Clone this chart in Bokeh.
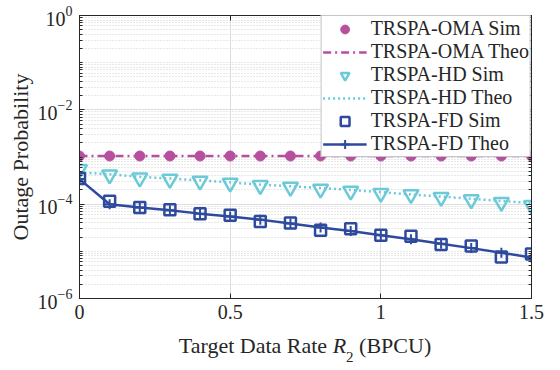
from bokeh.plotting import figure
from bokeh.models import (FixedTicker, LogAxis, LinearAxis, Legend, LegendItem,
                          Range1d, CustomJSTickFormatter, Div)
from bokeh.layouts import column
from bokeh.embed import file_html
from bokeh.resources import INLINE

# ---------------- data ----------------
rate = [0.0, 0.1, 0.2, 0.3, 0.4, 0.5, 0.6, 0.7, 0.8, 0.9, 1.0, 1.1, 1.2, 1.3, 1.4, 1.5]

oma_sim = [1.05e-3, 1.05e-3, 1.05e-3, 1.05e-3, 1.05e-3, 1.05e-3, 1.05e-3, 1.05e-3,
           1.05e-3, 1.05e-3, 1.05e-3, 1.05e-3, 1.05e-3, 1.05e-3, 1.05e-3, 1.05e-3]
oma_theo = [1.05e-3, 1.05e-3, 1.05e-3, 1.05e-3, 1.05e-3, 1.05e-3, 1.05e-3, 1.05e-3,
            1.05e-3, 1.05e-3, 1.05e-3, 1.05e-3, 1.05e-3, 1.05e-3, 1.05e-3, 1.05e-3]

hd_sim = [5.5e-4, 4.2e-4, 3.6e-4, 3.4e-4, 3.1e-4, 2.8e-4, 2.5e-4, 2.3e-4,
          2.1e-4, 1.9e-4, 1.7e-4, 1.6e-4, 1.4e-4, 1.25e-4, 1.1e-4, 9.5e-5]
hd_theo = [4.7e-4, 4.3e-4, 3.8e-4, 3.5e-4, 3.2e-4, 2.9e-4, 2.6e-4, 2.4e-4,
           2.2e-4, 2.0e-4, 1.8e-4, 1.6e-4, 1.45e-4, 1.3e-4, 1.17e-4, 1.05e-4]

fd_sim = [3.5e-4, 1.15e-4, 8.5e-5, 7.6e-5, 6.3e-5, 5.8e-5, 4.3e-5, 4.0e-5,
          2.8e-5, 3.0e-5, 2.2e-5, 2.1e-5, 1.4e-5, 1.3e-5, 7.6e-6, 8.8e-6]
fd_theo = [3.4e-4, 1.0e-4, 8.5e-5, 7.4e-5, 6.3e-5, 5.5e-5, 4.7e-5, 3.9e-5,
           3.2e-5, 2.7e-5, 2.2e-5, 1.8e-5, 1.45e-5, 1.17e-5, 9.3e-6, 7.4e-6]

x_ticks = [0, 0.5, 1, 1.5]
x_tick_labels = ["0", "0.5", "1", "1.5"]
y_ticks = [1e-6, 1e-4, 1e-2, 1e0]
y_minor = [m * 10.0 ** k for k in range(-6, 0) for m in range(1, 10)][1:]

names = ["TRSPA-OMA Sim", "TRSPA-OMA Theo", "TRSPA-HD Sim", "TRSPA-HD Theo",
         "TRSPA-FD Sim", "TRSPA-FD Theo"]
x_title = ["Target Data Rate", "R", "2", "(BPCU)"]
y_title = "Outage Probability"

C_OMA = "#B6509E"
C_HD = "#6CCAD8"
C_FD = "#2E4A9E"
FONT = "Liberation Serif"
AX = "#262626"

p = figure(frame_width=452, frame_height=283, x_range=Range1d(0, 1.5), y_range=Range1d(1e-6, 1),
           y_axis_type="log", output_backend="svg", toolbar_location=None,
           min_border_left=79, min_border_right=21, min_border_top=15, min_border_bottom=32)
p.outline_line_color = AX
p.background_fill_color = "white"

# axes
xt = FixedTicker(ticks=x_ticks)
yt = FixedTicker(ticks=y_ticks, minor_ticks=y_minor)
p.xaxis.ticker = xt
p.yaxis.ticker = yt
p.xaxis.major_label_overrides = {t: l for t, l in zip(x_ticks, x_tick_labels)}
for ax in (p.xaxis[0], p.yaxis[0]):
    ax.axis_line_color = AX
    ax.major_tick_line_color = AX
    ax.minor_tick_line_color = AX
    ax.major_tick_in = 5
    ax.major_tick_out = 0
    ax.minor_tick_out = 0
    ax.major_label_text_font = FONT
    ax.major_label_text_font_size = "20px"
    ax.major_label_text_color = AX
    ax.axis_label_text_font = FONT
    ax.axis_label_text_font_size = "22px"
    ax.axis_label_text_font_style = "normal"
    ax.axis_label_text_color = AX
p.xaxis.minor_tick_in = 0
p.yaxis.minor_tick_in = 3
p.xaxis.major_label_standoff = 6
p.xaxis.axis_label_standoff = 0
p.yaxis.major_label_standoff = 7
p.yaxis.axis_label = y_title
p.yaxis.axis_label_standoff = 2

blank = CustomJSTickFormatter(code="return ''")
top = LinearAxis(ticker=xt, formatter=blank, major_tick_in=5, major_tick_out=0,
                 minor_tick_in=0, minor_tick_out=0, major_label_standoff=0,
                 axis_line_color=AX, major_tick_line_color=AX)
right = LogAxis(ticker=yt, formatter=blank, major_tick_in=5, major_tick_out=0,
                minor_tick_in=3, minor_tick_out=0, major_label_standoff=0,
                axis_line_color=AX, major_tick_line_color=AX, minor_tick_line_color=AX)
p.add_layout(top, "above")
p.add_layout(right, "right")

# grids
p.xgrid.grid_line_color = "#dedede"
p.ygrid.grid_line_color = "#dedede"
p.ygrid.minor_grid_line_color = "#d0d0d0"
p.ygrid.minor_grid_line_dash = "1 2"

# renderers
r_oma_t = p.line(rate, oma_theo, line_color=C_OMA, line_width=2.5, line_dash="8 4 2 4")
r_oma_s = p.scatter(rate, oma_sim, marker="circle", size=10, fill_color=C_OMA, line_color=C_OMA)

r_hd_t = p.line(rate, hd_theo, line_color=C_HD, line_width=2.5, line_dash="2 3")
r_hd_s = p.scatter(rate, hd_sim, marker="inverted_triangle", size=15, fill_alpha=0,
                   line_color=C_HD, line_width=2.5)

r_fd_t = p.line(rate, fd_theo, line_color=C_FD, line_width=2.5)
r_fd_tm = p.scatter(rate, fd_theo, marker="cross", size=10, line_color=C_FD, line_width=2)
r_fd_s = p.scatter(rate, fd_sim, marker="square", size=11, fill_alpha=0,
                   line_color=C_FD, line_width=2.5)

items = [
    LegendItem(label=names[0], renderers=[r_oma_s]),
    LegendItem(label=names[1], renderers=[r_oma_t]),
    LegendItem(label=names[2], renderers=[r_hd_s]),
    LegendItem(label=names[3], renderers=[r_hd_t]),
    LegendItem(label=names[4], renderers=[r_fd_s]),
    LegendItem(label=names[5], renderers=[r_fd_t, r_fd_tm]),
]
legend = Legend(items=items, location="top_right", margin=0, padding=1, spacing=-1,
                label_height=22, glyph_height=22, glyph_width=44, label_standoff=4,
                label_text_font=FONT, label_text_font_size="20px", label_text_color=AX,
                border_line_color="#8c8c8c", border_line_width=1,
                background_fill_color="white", background_fill_alpha=1)
p.add_layout(legend)

# x-axis title (italic R with subscript 2) as real HTML text under the figure
title_html = (f'{x_title[0]} <i>{x_title[1]}</i>'
              f'<span style="font-size:15px;line-height:0;position:relative;top:9px">{x_title[2]}</span>'
              f' {x_title[3]}')
xlab = Div(text=title_html, width=452, height=36, margin=(3, 0, 0, 79),
           styles={"font-family": FONT, "font-size": "22px", "line-height": "26px",
                   "color": AX, "text-align": "center", "overflow": "hidden",
                   "white-space": "nowrap"})

layout = column(p, xlab, spacing=0)
open("out.html", "w").write(file_html(layout, INLINE))
